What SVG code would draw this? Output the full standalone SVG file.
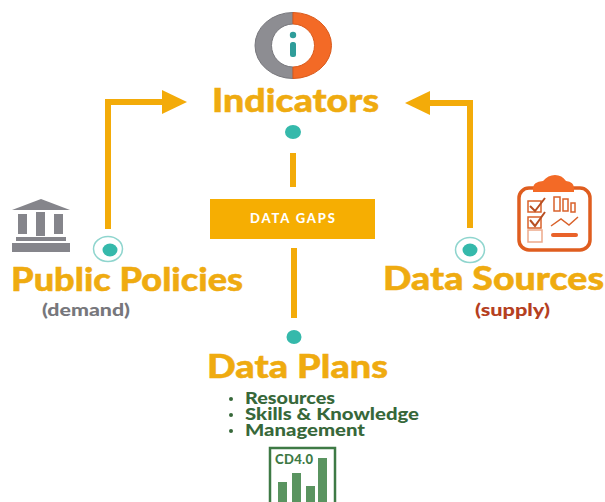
<svg xmlns="http://www.w3.org/2000/svg" width="605" height="502" viewBox="0 0 605 502">
<defs><style>
.t{font-family:"Lato","Open Sans",sans-serif;font-weight:900}
.h{fill:#efab10;font-size:33px;stroke:#efab10;stroke-width:.5px}
.g{fill:#37683a;font-size:16px}
.c{fill:none;stroke:#f3ab09;stroke-width:6}
.dot{fill:#35b9ab}
.ring{fill:none;stroke:#8fd5ce;stroke-width:1.500}
</style>
<marker id="a" markerUnits="userSpaceOnUse" markerWidth="26" markerHeight="26" refX="0" refY="13" orient="auto"><path d="M0 1L25 13L0 25Z" fill="#f3ab09"/></marker>
</defs>
<rect width="605" height="502" fill="#fff"/>
<g id="connectors">
<path class="c" d="M108 229V102H162" marker-end="url(#a)"/>
<path class="c" d="M470 228V103H430" marker-end="url(#a)"/>
<path class="c" d="M293 153V187"/>
<path class="c" d="M294 248V318"/>
</g>
<g id="indicators">
<path d="M293 12.500A38 33 0 0 0 293 78.500V67A21.500 21.500 0 0 1 293 24Z" fill="#8d8d92" stroke="#77777c"/>
<path d="M293 12.500A38.500 33 0 0 1 293 78.500V67A21.500 21.500 0 0 0 293 24Z" fill="#f36a26" stroke="#d95a1c"/>
<circle cx="293" cy="35" r="3.200" fill="#2f9d9a"/>
<rect x="290" y="42" width="6" height="15" rx="2.500" fill="#2f9d9a"/>
<text class="t h" x="212" y="112" textLength="167" lengthAdjust="spacingAndGlyphs">Indicators</text>
<ellipse class="dot" cx="293" cy="132" rx="8" ry="7"/>
</g>
<g id="data-gaps">
<rect x="210" y="199" width="165" height="40" fill="#f6ae02"/>
<text class="t" x="250" y="223" font-size="13" fill="#fff" textLength="85">DATA GAPS</text>
</g>
<g id="public-policies">
<g fill="#85858b">
<path d="M12 210L41 199L70 210Z"/>
<rect x="18" y="214" width="9" height="20"/><rect x="36" y="212" width="9" height="24"/><rect x="54" y="214" width="9" height="20"/>
<rect x="16" y="237" width="50" height="4"/><rect x="12" y="243" width="58" height="9"/>
</g>
<ellipse class="ring" cx="108" cy="249" rx="14.500" ry="12.500"/>
<ellipse class="dot" cx="110" cy="250" rx="7.500" ry="6.500"/>
<text class="t h" x="11" y="291" textLength="232" lengthAdjust="spacingAndGlyphs">Public Policies</text>
<text class="t" x="42" y="316" font-size="17" fill="#77777c" textLength="88" lengthAdjust="spacingAndGlyphs">(demand)</text>
</g>
<g id="data-sources">
<rect x="519" y="188" width="71" height="62" rx="10" fill="none" stroke="#df5d1f" stroke-width="3.500"/>
<path d="M533 188Q533 182 543 181Q548 175 555 175Q562 175 566 181Q574 182 574 188V192H533Z" fill="#f36a26"/>
<g fill="none" stroke="#d9622b" stroke-width="1.500">
<rect x="528" y="201" width="13" height="11"/><rect x="528" y="217" width="13" height="11"/><rect x="528" y="230" width="14" height="12" stroke="#eda98a"/>
<rect x="554" y="197" width="6" height="14"/><rect x="563" y="199" width="5" height="12"/><rect x="571" y="203" width="4" height="9"/>
<path d="M551 226L561 219L569 225L578 217"/>
<path d="M530 206L535 211L545 198M530 220L535 226L545 212" stroke="#b84f22" stroke-width="2"/>
</g>
<rect x="551" y="233" width="27" height="4" rx="2" fill="#e9622a"/>
<ellipse class="ring" cx="470" cy="250" rx="14.500" ry="12.500"/>
<ellipse class="dot" cx="470" cy="250" rx="7.500" ry="6.500"/>
<text class="t h" x="383" y="290" textLength="221" lengthAdjust="spacingAndGlyphs">Data Sources</text>
<text class="t" x="475" y="316" font-size="17" fill="#b5401f" textLength="75" lengthAdjust="spacingAndGlyphs">(supply)</text>
</g>
<g id="data-plans">
<ellipse class="dot" cx="294" cy="337" rx="7.500" ry="7"/>
<text class="t h" x="207" y="378" textLength="181" lengthAdjust="spacingAndGlyphs">Data Plans</text>
<circle cx="231" cy="399" r="2" fill="#37683a"/><circle cx="231" cy="415" r="2" fill="#37683a"/><circle cx="231" cy="431" r="2" fill="#37683a"/>
<text class="t g" x="245" y="404" textLength="90" lengthAdjust="spacingAndGlyphs">Resources</text>
<text class="t g" x="245" y="420" textLength="174" lengthAdjust="spacingAndGlyphs">Skills &amp; Knowledge</text>
<text class="t g" x="245" y="436" textLength="120" lengthAdjust="spacingAndGlyphs">Management</text>
<rect x="270" y="448" width="65" height="60" fill="none" stroke="#3e7a45" stroke-width="2.500"/>
<text x="275" y="464" font-family="Lato,sans-serif" font-weight="900" font-size="13" fill="#3e7a45" textLength="38">CD4.0</text>
<g fill="#5a9460"><rect x="278" y="482" width="9" height="20"/><rect x="292" y="473" width="9" height="29"/><rect x="306" y="486" width="9" height="16"/><rect x="318" y="458" width="9" height="44"/></g>
</g>
</svg>
